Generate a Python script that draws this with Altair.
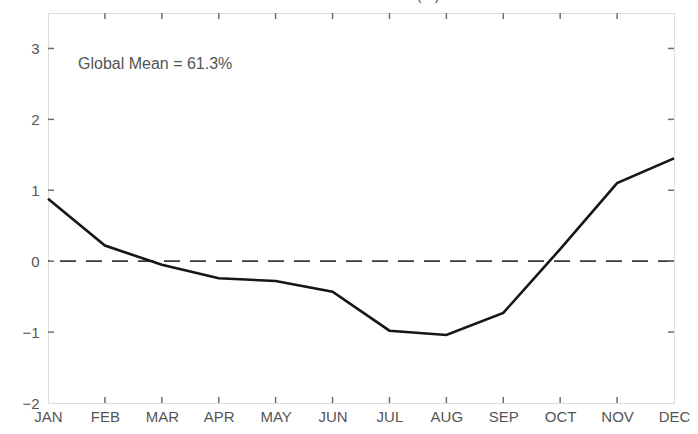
import altair as alt
import pandas as pd

months = ["JAN", "FEB", "MAR", "APR", "MAY", "JUN", "JUL", "AUG", "SEP", "OCT", "NOV", "DEC"]
anomaly = [0.88, 0.22, -0.05, -0.24, -0.28, -0.43, -0.98, -1.04, -0.73, 0.17, 1.10, 1.45]
y_ticks = [-2, -1, 0, 1, 2, 3]
inner_x_ticks = months[1:-1]
inner_y_ticks = [-1, 0, 1, 2, 3]
title_text = "Total Cloud Amount (%)"
note_text = "Global Mean = 61.3%"

W, H = 626, 390
df = pd.DataFrame({"month": months, "value": anomaly})
zero_df = pd.DataFrame({"value": [0]})
xt_df = pd.DataFrame({"month": inner_x_ticks})
yt_df = pd.DataFrame({"value": inner_y_ticks})

x_scale = alt.Scale(type="point", padding=0, domain=months)
y_scale = alt.Scale(domain=[-2, 3.5], nice=False, zero=False)

FONT = "Liberation Sans"
GRAY = "#555555"

x_axis = alt.Axis(labelAngle=0, ticks=False, domain=False, grid=False, labelPadding=6,
                  labelFontSize=15, labelColor=GRAY, labelFont=FONT)
y_axis = alt.Axis(values=y_ticks, ticks=False, domain=False, grid=False,
                  labelPadding=9, labelFontSize=15, labelColor=GRAY, labelFont=FONT)

X = alt.X("month:O", sort=months, scale=x_scale, title=None, axis=x_axis)
Y = alt.Y("value:Q", scale=y_scale, title=None, axis=y_axis)

line = alt.Chart(df).mark_line(color="#161616", strokeWidth=2.6).encode(x=X, y=Y)

zero = alt.Chart(zero_df).mark_rule(color="#3a3a3a", strokeWidth=1.8, strokeDash=[16, 10]).encode(y=Y)

tick_color = "#6f6f6f"
xt_bot = alt.Chart(xt_df).mark_rule(color=tick_color, strokeWidth=1.5).encode(
    x=X, y=alt.value(H), y2=alt.value(H - 6))
xt_top = alt.Chart(xt_df).mark_rule(color=tick_color, strokeWidth=1.5).encode(
    x=X, y=alt.value(0), y2=alt.value(6))
yt_left = alt.Chart(yt_df).mark_rule(color=tick_color, strokeWidth=1.5).encode(
    y=Y, x=alt.value(0), x2=alt.value(6))
yt_right = alt.Chart(yt_df).mark_rule(color=tick_color, strokeWidth=1.5).encode(
    y=Y, x=alt.value(W), x2=alt.value(W - 6))

note = alt.Chart(pd.DataFrame({"t": [note_text]})).mark_text(
    align="left", baseline="middle", fontSize=16, font=FONT, color="#555555").encode(
    x=alt.value(30), y=alt.value(51), text="t:N")

chart = alt.layer(zero, line, xt_bot, xt_top, yt_left, yt_right, note).properties(
    width=W, height=H,
    title=alt.TitleParams(title_text, anchor="middle", fontSize=15, font=FONT,
                          color="#555555", fontWeight="normal", offset=9),
    autosize=alt.AutoSizeParams(type="none"),
    padding={"left": 48, "top": 13, "right": 24, "bottom": 31},
).configure_view(stroke="#6f6f6f", strokeWidth=2).configure(background="white")

chart.save("out.html", embed_options={"renderer": "svg", "actions": False})
